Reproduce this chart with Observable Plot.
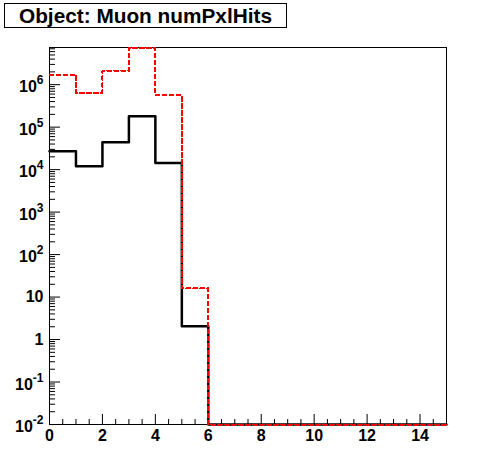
<!DOCTYPE html>
<html><head><meta charset="utf-8">
<script src="https://cdn.jsdelivr.net/npm/d3@7"></script>
<script src="https://cdn.jsdelivr.net/npm/@observablehq/plot@0.6"></script>
<style>
body{margin:0;background:#fff;}
#wrap{position:relative;width:496px;height:472px;}
#title{position:absolute;left:4px;top:3px;width:281px;height:23px;border:1px solid #000;background:#fff;font:bold 20.8px "Liberation Sans",Arial,sans-serif;text-align:center;line-height:23px;white-space:nowrap;z-index:2;}
#chart{position:absolute;left:0;top:0;}
</style></head>
<body><div id="wrap"><div id="title">Object: Muon numPxlHits</div><div id="chart"></div></div>
<script>
// Histogram bin edges (numPxlHits)
const binEdges = [0,1,2,3,4,5,6,7,8,9,10,11,12,13,14,15];
// Black solid histogram
const blackCounts = [27000, 12000, 44000, 180000, 14300, 2.05, 0, 0, 0, 0, 0, 0, 0, 0, 0];
// Red dashed histogram
const redCounts = [1720000, 640000, 2100000, 7400000, 560000, 16, 0, 0, 0, 0, 0, 0, 0, 0, 0];
// Axis ticks
const xTickLabels = [0, 2, 4, 6, 8, 10, 12, 14];
const yTickValues = [1e-2, 1e-1, 1, 10, 1e2, 1e3, 1e4, 1e5, 1e6];
const yTickLabels = ["10^-2", "10^-1", "1", "10", "10^2", "10^3", "10^4", "10^5", "10^6"];

const yMin = 1e-2, yMax = 7.5e6;
const W = 496, H = 472, mL = 49, mR = 50, mT = 47, mB = 48;
const frameH = H - mT - mB, frameW = W - mL - mR;

function stepData(counts) {
  return binEdges.map((x, i) => ({x, y: Math.max(counts[Math.min(i, counts.length - 1)], yMin)}));
}
const xMinor = d3.range(0.5, 15, 0.5).filter(v => v % 2 !== 0);
const yMinor = [];
for (let k = -2; k <= 6; k++) for (let m = 2; m <= 9; m++) { const v = m * Math.pow(10, k); if (v < yMax) yMinor.push(v); }

const font = '"Liberation Sans", Arial, sans-serif';
const chart = Plot.plot({
  width: W, height: H, marginLeft: mL, marginRight: mR, marginTop: mT, marginBottom: mB,
  style: {fontFamily: font, fontSize: "16px", fontWeight: "bold", color: "#000", background: "transparent"},
  x: {domain: [0, 15]},
  y: {type: "log", domain: [yMin, yMax]},
  marks: [
    Plot.ruleX(xMinor, {x: d => d, y1: yMax, y2: yMin, insetTop: frameH - 5, stroke: "#000"}),
    Plot.ruleX(xTickLabels, {x: d => d, y1: yMax, y2: yMin, insetTop: frameH - 10, stroke: "#000"}),
    Plot.ruleY(yMinor, {y: d => d, x1: 0, x2: 15, insetRight: frameW - 6, stroke: "#000"}),
    Plot.ruleY(yTickValues, {y: d => d, x1: 0, x2: 15, insetRight: frameW - 11, stroke: "#000"}),
    Plot.axisX({ticks: xTickLabels, tickSize: 0, tickPadding: 5, label: null, fontSize: 16, fontWeight: "bold"}),
    Plot.axisY({ticks: yTickValues, tickFormat: d => yTickLabels[yTickValues.findIndex(v => Math.abs(Math.log10(v) - Math.log10(d)) < 1e-6)], tickSize: 0, tickPadding: 6, label: null, fontSize: 16, fontWeight: "bold"}),
    Plot.frame({stroke: "#000", strokeWidth: 1}),
    Plot.line(stepData(blackCounts), {x: "x", y: "y", curve: "step-after", stroke: "#000", strokeWidth: 2.5}),
    Plot.line(stepData(redCounts), {x: "x", y: "y", curve: "step-after", stroke: "#ff0000", strokeWidth: 2, strokeDasharray: "4,3", shapeRendering: "crispEdges"})
  ]
});
document.getElementById("chart").appendChild(chart);

// Render exponents as superscripts
chart.querySelectorAll('g[aria-label="y-axis tick label"] text').forEach(t => {
  const s = t.textContent;
  const idx = s.indexOf("^");
  if (idx < 0) return;
  const base = s.slice(0, idx), exp = s.slice(idx + 1);
  while (t.firstChild) t.removeChild(t.firstChild);
  const ns = "http://www.w3.org/2000/svg";
  const a = document.createElementNS(ns, "tspan");
  a.setAttribute("dy", "0.15em");
  a.textContent = base;
  const b = document.createElementNS(ns, "tspan");
  b.setAttribute("dy", "-0.65em");
  b.setAttribute("font-size", "12");
  b.textContent = exp;
  t.appendChild(a); t.appendChild(b);
});
</script>
</body></html>
